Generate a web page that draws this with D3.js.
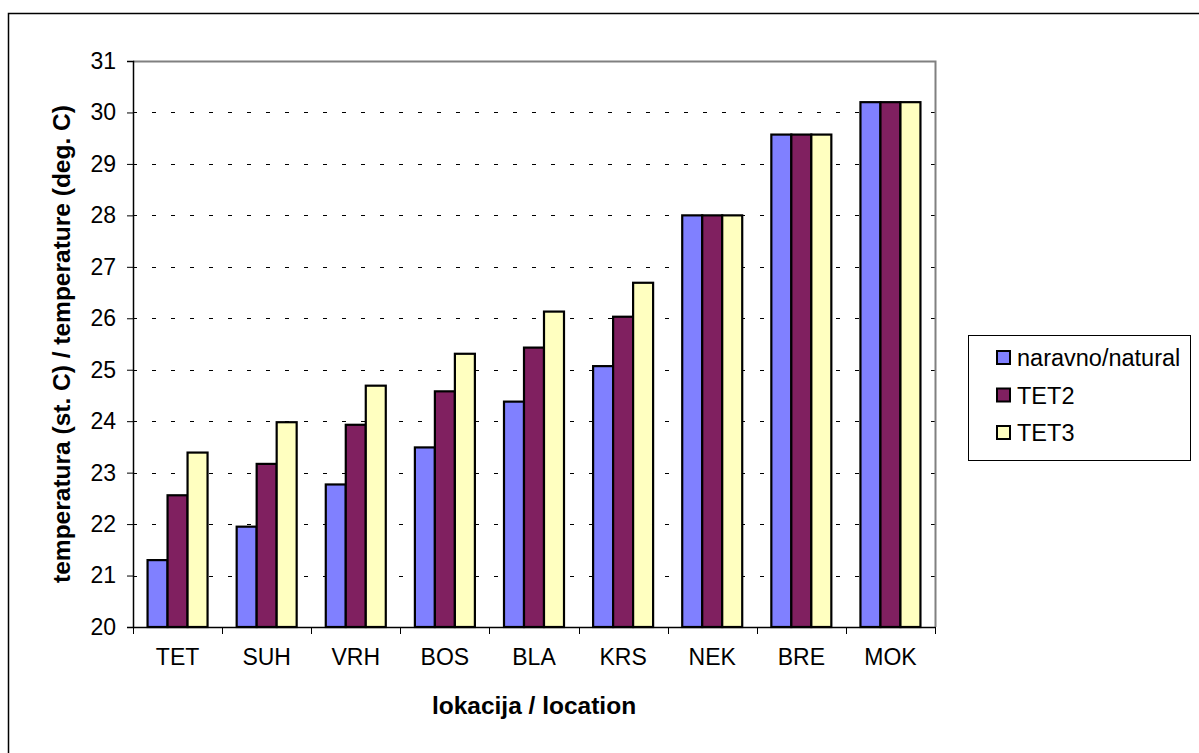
<!DOCTYPE html>
<html><head><meta charset="utf-8">
<script src="https://cdn.jsdelivr.net/npm/d3@7"></script>
<style>body{margin:0;background:#fff;}svg{display:block;font-family:"Liberation Sans",Arial,sans-serif;}</style>
</head><body>
<svg id="c" width="1199" height="753"></svg>
<script>
const categories = ["TET","SUH","VRH","BOS","BLA","KRS","NEK","BRE","MOK"];
const seriesNames = ["naravno/natural","TET2","TET3"];
const natural = [21.30,21.95,22.77,23.49,24.38,25.07,28.0,29.57,30.2];
const tet2    = [22.56,23.17,23.93,24.58,25.43,26.03,28.0,29.57,30.2];
const tet3    = [23.39,23.98,24.69,25.31,26.13,26.69,28.0,29.57,30.2];
const yTicks = [20,21,22,23,24,25,26,27,28,29,30,31];
const colors = ["#8080ff","#802060","#ffffc0"];
const seriesValues = [natural, tet2, tet3];

const svg = d3.select("#c");
const L=133, R=935, T=61, B=627;
const FS = 23, FSB = 24.5;

// outer frame
svg.append("rect").attr("x",8.5).attr("y",13.5).attr("width",1400).attr("height",900)
  .attr("fill","none").attr("stroke","#000").attr("stroke-width",1.5);

const x = d3.scaleBand().domain(categories).range([L,R]).paddingInner(0).paddingOuter(0);
const y = d3.scaleLinear().domain([20,31]).range([B,T]);
const inner = d3.scaleBand().domain(d3.range(3)).range([0,60]);
const groupOffset = (x.bandwidth()-60)/2;

// gridlines
svg.append("g").selectAll("line").data(yTicks.filter(t=>t>20&&t<31)).join("line")
  .attr("x1",L).attr("x2",R).attr("y1",d=>Math.round(y(d))+0.5).attr("y2",d=>Math.round(y(d))+0.5)
  .attr("stroke","#000").attr("stroke-width",1).attr("stroke-dasharray","4,15");

// plot border top/right grey
svg.append("path").attr("d",`M${L},${T+0.5}H${R+0.5}V${B}`).attr("fill","none").attr("stroke","#808080").attr("stroke-width",2);

// bars
const g = svg.append("g");
categories.forEach((c,i)=>{
  seriesValues.forEach((vals,s)=>{
    g.append("rect")
      .attr("x",x(c)+groupOffset+inner(s))
      .attr("y",y(vals[i]))
      .attr("width",inner.bandwidth())
      .attr("height",y(20)-y(vals[i]))
      .attr("fill",colors[s]).attr("stroke","#000").attr("stroke-width",2.2);
  });
});

// y axis
const ya = svg.append("g").attr("transform",`translate(${L},0)`)
  .call(d3.axisLeft(y).tickValues(yTicks).tickSize(6).tickPadding(11).tickFormat(d3.format("d")));
ya.attr("font-size",null).attr("font-family",null);
ya.select(".domain").attr("stroke","#000").attr("stroke-width",1.5);
ya.selectAll(".tick line").attr("stroke","#000");
ya.selectAll("text").style("font-size",FS+"px").attr("fill","#000");

// x axis
const xa = svg.append("g").attr("transform",`translate(0,${B})`)
  .call(d3.axisBottom(x).tickSize(0).tickPadding(22));
xa.attr("font-size",null).attr("font-family",null);
xa.select(".domain").attr("stroke","#000").attr("stroke-width",1.5);
xa.selectAll("text").style("font-size",FS+"px").attr("fill","#000");
// boundary ticks
const bounds = categories.map(c=>x(c)).concat([R]);
xa.selectAll(".bt").data(bounds).join("line").attr("class","bt")
  .attr("x1",d=>Math.round(d)+0.5).attr("x2",d=>Math.round(d)+0.5).attr("y1",0).attr("y2",7).attr("stroke","#000");

// axis titles
svg.append("text").attr("x",(L+R)/2).attr("y",714).attr("text-anchor","middle")
  .style("font-size",FSB+"px").attr("font-weight","bold").text("lokacija / location");
svg.append("text").attr("transform",`translate(70,${(T+B)/2}) rotate(-90)`).attr("text-anchor","middle")
  .style("font-size",FSB+"px").attr("font-weight","bold").text("temperatura (st. C) / temperature (deg. C)");

// legend
const lg = svg.append("g");
lg.append("rect").attr("x",968.5).attr("y",335.5).attr("width",222).attr("height",125)
  .attr("fill","#fff").attr("stroke","#000").attr("stroke-width",1);
seriesNames.forEach((n,i)=>{
  const cy = 358 + i*37.5;
  lg.append("rect").attr("x",997).attr("y",cy-7).attr("width",13).attr("height",13)
    .attr("fill",colors[i]).attr("stroke","#000").attr("stroke-width",2);
  lg.append("text").attr("x",1017).attr("y",cy+8).style("font-size",(FS+0.5)+"px").text(n);
});
</script>
</body></html>
